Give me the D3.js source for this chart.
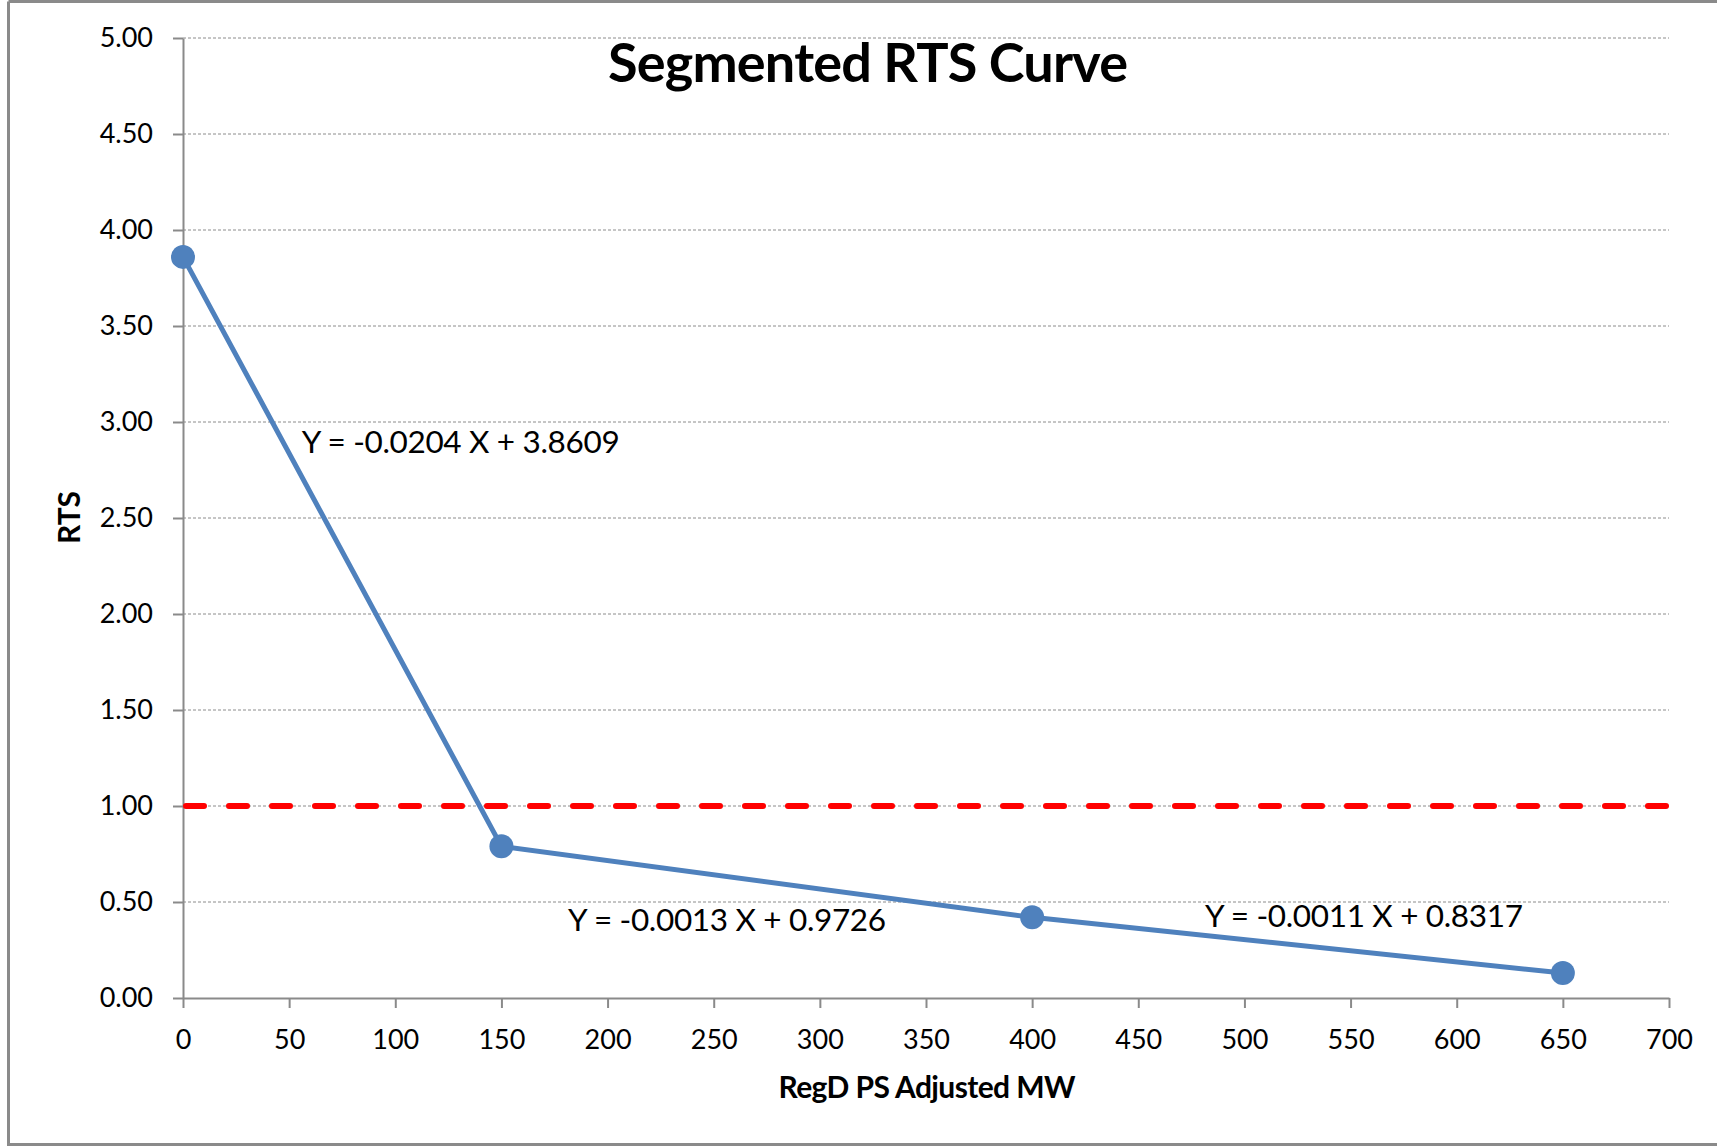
<!DOCTYPE html>
<html>
<head>
<meta charset="utf-8">
<script src="https://cdn.jsdelivr.net/npm/d3@7"></script>
<style>
body { margin: 0; background: #fff; }
svg text { font-family: Lato, "Open Sans", sans-serif; fill: #000; }
</style>
</head>
<body>
<div id="chart"></div>
<script>
// RTS curve break points
var mw = [0, 150, 400, 650]
var rts = [3.86, 0.79, 0.42, 0.13]
var xTicks = [0,50,100,150,200,250,300,350,400,450,500,550,600,650,700]
var yTicks = [0,0.5,1,1.5,2,2.5,3,3.5,4,4.5,5]
var refLine = 1.0
var equations = ['Y = -0.0204 X + 3.8609', 'Y = -0.0013 X + 0.9726', 'Y = -0.0011 X + 0.8317']

var W = 1717, H = 1146
var x = d3.scaleLinear().domain([0, 700]).range([183, 1669])
var y = d3.scaleLinear().domain([0, 5]).range([998, 38])

var svg = d3.select('#chart').append('svg')
	.attr('width', W)
	.attr('height', H)

// outer frame
svg.append('path')
	.attr('d', 'M8.5,1.5 H' + W + ' M8.5,1.5 V1144.5 H' + W)
	.attr('fill', 'none')
	.attr('stroke', '#8a8a8a')
	.attr('stroke-width', 3)

// gridlines
svg.append('g').selectAll('line')
	.data(yTicks.filter(d => d > 0))
	.join('line')
	.attr('x1', x(0)).attr('x2', x(700))
	.attr('y1', d => y(d)).attr('y2', d => y(d))
	.attr('stroke', '#8c8c8c')
	.attr('stroke-width', 1)
	.attr('stroke-dasharray', '3,2')

// axes
var yAxis = svg.append('g')
	.attr('transform', 'translate(' + x(0) + ',0)')
	.call(d3.axisLeft(y).tickValues(yTicks).tickFormat(d3.format('.2f'))
		.tickSize(10).tickSizeOuter(0).tickPadding(20))
var xAxis = svg.append('g')
	.attr('transform', 'translate(0,' + y(0) + ')')
	.call(d3.axisBottom(x).tickValues(xTicks).tickFormat(d3.format('d'))
		.tickSize(10).tickSizeOuter(0))
svg.selectAll('.domain, .tick line')
	.attr('stroke', '#8a8a8a')
	.attr('stroke-width', 2)
svg.selectAll('.tick text')
	.style('font-size', '27px')
	.style('font-family', 'Lato')
	.attr('fill', '#000')
xAxis.selectAll('.tick text').attr('y', 51).attr('dy', 0)

// reference line at RTS = 1
svg.append('line')
	.attr('x1', x(0) + 3).attr('x2', x(700))
	.attr('y1', y(refLine)).attr('y2', y(refLine))
	.attr('stroke', '#ff0000')
	.attr('stroke-width', 6)
	.attr('stroke-linecap', 'round')
	.attr('stroke-dasharray', '18,25')

// curve
var pts = mw.map((d, i) => [d, rts[i]])
svg.append('path')
	.datum(pts)
	.attr('d', d3.line().x(d => x(d[0])).y(d => y(d[1])))
	.attr('fill', 'none')
	.attr('stroke', '#4f81bd')
	.attr('stroke-width', 5)
	.attr('stroke-linejoin', 'round')
svg.append('g').selectAll('circle')
	.data(pts)
	.join('circle')
	.attr('cx', d => x(d[0]))
	.attr('cy', d => y(d[1]))
	.attr('r', 12)
	.attr('fill', '#4f81bd')

// equation labels (anchor in data units)
var eqAt = [[55.9, 2.84], [181.4, 0.35], [481.4, 0.37]]
svg.append('g').selectAll('text')
	.data(equations)
	.join('text')
	.attr('x', (d, i) => x(eqAt[i][0]))
	.attr('y', (d, i) => y(eqAt[i][1]))
	.attr('textLength', 318)
	.attr('lengthAdjust', 'spacing')
	.style('font-size', '31.5px')
	.text(d => d)

// titles
svg.append('text')
	.attr('x', 868).attr('y', 82)
	.attr('text-anchor', 'middle')
	.attr('textLength', 520)
	.attr('lengthAdjust', 'spacing')
	.style('font-size', '54px')
	.style('font-weight', 'bold')
	.text('Segmented RTS Curve')
svg.append('text')
	.attr('x', 927).attr('y', 1098)
	.attr('text-anchor', 'middle')
	.attr('textLength', 297)
	.attr('lengthAdjust', 'spacing')
	.style('font-size', '30px')
	.style('font-weight', 'bold')
	.text('RegD PS Adjusted MW')
svg.append('text')
	.attr('transform', 'translate(80,517.5) rotate(-90)')
	.attr('text-anchor', 'middle')
	.style('font-size', '30px')
	.style('font-weight', 'bold')
	.text('RTS')
</script>
</body>
</html>
